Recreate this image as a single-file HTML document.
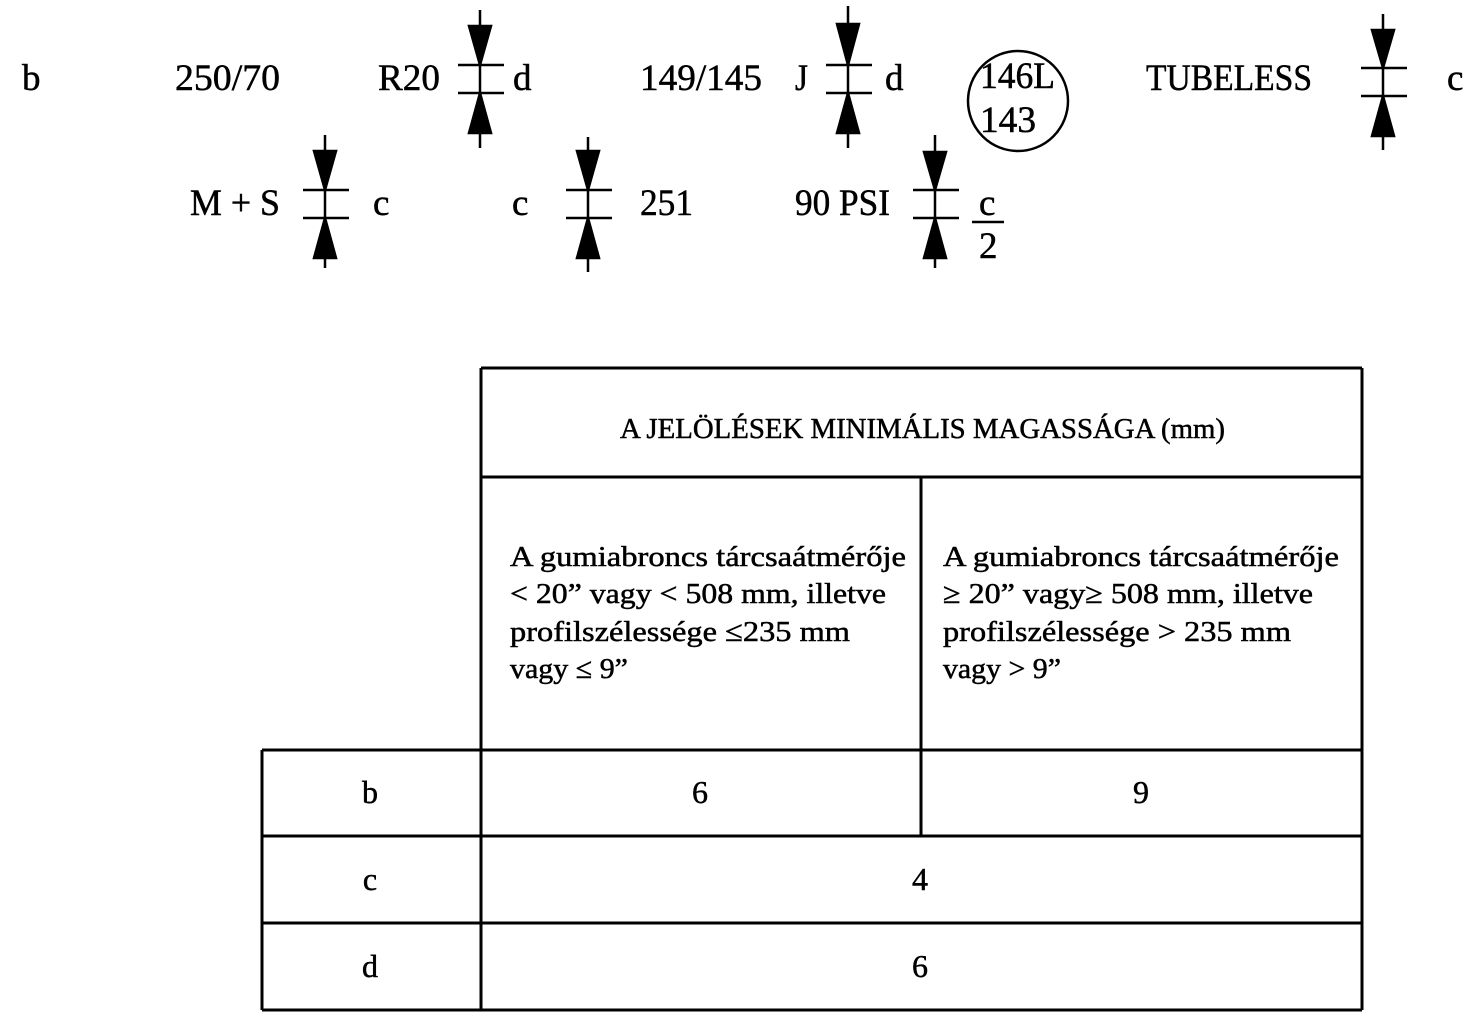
<!DOCTYPE html>
<html><head><meta charset="utf-8"><style>
html,body{margin:0;padding:0;background:#fff;}
svg{display:block;}
text{font-family:"Liberation Serif",serif;fill:#000;stroke:#000;stroke-width:0.5;}
</style></head><body>
<svg width="1481" height="1029" viewBox="0 0 1481 1029" xmlns="http://www.w3.org/2000/svg">
<g font-size="37">
<text x="22" y="90">b</text>
<text x="175" y="90" textLength="105" lengthAdjust="spacingAndGlyphs">250/70</text>
<text x="378" y="90" textLength="62" lengthAdjust="spacingAndGlyphs">R20</text>
<text x="513" y="90">d</text>
<text x="640" y="90" textLength="122" lengthAdjust="spacingAndGlyphs">149/145</text>
<text x="795" y="90" textLength="13" lengthAdjust="spacingAndGlyphs">J</text>
<text x="885" y="90">d</text>
<text x="980" y="88" textLength="75" lengthAdjust="spacingAndGlyphs" stroke-width="1">146L</text>
<text x="980" y="132" textLength="56" lengthAdjust="spacingAndGlyphs" stroke-width="1">143</text>
<text x="1146" y="90" textLength="166" lengthAdjust="spacingAndGlyphs">TUBELESS</text>
<text x="1447" y="90">c</text>
<text x="190" y="215" textLength="90" lengthAdjust="spacingAndGlyphs">M + S</text>
<text x="373" y="215">c</text>
<text x="512" y="215">c</text>
<text x="640" y="215" textLength="53" lengthAdjust="spacingAndGlyphs">251</text>
<text x="795" y="215" textLength="95" lengthAdjust="spacingAndGlyphs">90 PSI</text>
<text x="979" y="215">c</text>
<text x="979" y="258">2</text>
</g>
<line x1="972" y1="222" x2="1004" y2="222" stroke="#000" stroke-width="2.5"/>
<circle cx="1018" cy="101" r="50" fill="none" stroke="#000" stroke-width="2.5"/>
<g stroke="#000" stroke-width="2.5" fill="#000">
<g transform="translate(480,0)">
<line x1="0" y1="10" x2="0" y2="148"/><polygon points="-11,26 11,26 0,65"/><polygon points="-11,133 11,133 0,93"/>
<line x1="-22" y1="65" x2="24" y2="65"/><line x1="-22" y1="93" x2="24" y2="93"/></g>
<g transform="translate(848,-2)">
<line x1="0" y1="8" x2="0" y2="150"/><polygon points="-11,26 11,26 0,67"/><polygon points="-11,135 11,135 0,95"/>
<line x1="-22" y1="67" x2="24" y2="67"/><line x1="-22" y1="95" x2="24" y2="95"/></g>
<g transform="translate(1383,2)">
<line x1="0" y1="12" x2="0" y2="148"/><polygon points="-11,28 11,28 0,66"/><polygon points="-11,134 11,134 0,94"/>
<line x1="-22" y1="66" x2="24" y2="66"/><line x1="-22" y1="94" x2="24" y2="94"/></g>
<g transform="translate(325,125)">
<line x1="0" y1="10" x2="0" y2="143"/><polygon points="-11,26 11,26 0,65"/><polygon points="-11,133 11,133 0,93"/>
<line x1="-22" y1="65" x2="24" y2="65"/><line x1="-22" y1="93" x2="24" y2="93"/></g>
<g transform="translate(588,125)">
<line x1="0" y1="12" x2="0" y2="147"/><polygon points="-11,26 11,26 0,65"/><polygon points="-11,133 11,133 0,93"/>
<line x1="-22" y1="65" x2="24" y2="65"/><line x1="-22" y1="93" x2="24" y2="93"/></g>
<g transform="translate(935,125)">
<line x1="0" y1="10" x2="0" y2="143"/><polygon points="-11,27 11,27 0,65"/><polygon points="-11,133 11,133 0,93"/>
<line x1="-22" y1="65" x2="24" y2="65"/><line x1="-22" y1="93" x2="24" y2="93"/></g>
</g>
<g stroke="#000" stroke-width="3" fill="none">
<line x1="481" y1="368" x2="1362" y2="368"/>
<line x1="481" y1="368" x2="481" y2="1010"/>
<line x1="1362" y1="368" x2="1362" y2="1010"/>
<line x1="481" y1="477" x2="1362" y2="477"/>
<line x1="921" y1="477" x2="921" y2="836"/>
<line x1="262" y1="750" x2="1362" y2="750"/>
<line x1="262" y1="750" x2="262" y2="1010"/>
<line x1="262" y1="836" x2="1362" y2="836"/>
<line x1="262" y1="923" x2="1362" y2="923"/>
<line x1="262" y1="1010" x2="1362" y2="1010"/>
</g>
<g font-size="29">
<text x="620" y="438" textLength="605" lengthAdjust="spacingAndGlyphs">A JELÖLÉSEK MINIMÁLIS MAGASSÁGA (mm)</text>
<text x="510" y="566" textLength="396" lengthAdjust="spacingAndGlyphs">A gumiabroncs tárcsaátmérője</text>
<text x="510" y="603" textLength="376" lengthAdjust="spacingAndGlyphs">&lt; 20” vagy &lt; 508 mm, illetve</text>
<text x="510" y="641" textLength="340" lengthAdjust="spacingAndGlyphs">profilszélessége ≤235 mm</text>
<text x="510" y="678" textLength="118" lengthAdjust="spacingAndGlyphs">vagy ≤ 9”</text>
<text x="943" y="566" textLength="396" lengthAdjust="spacingAndGlyphs">A gumiabroncs tárcsaátmérője</text>
<text x="943" y="603" textLength="370" lengthAdjust="spacingAndGlyphs">≥ 20” vagy≥ 508 mm, illetve</text>
<text x="943" y="641" textLength="348" lengthAdjust="spacingAndGlyphs">profilszélessége &gt; 235 mm</text>
<text x="943" y="678" textLength="118" lengthAdjust="spacingAndGlyphs">vagy &gt; 9”</text>
<g font-size="32" text-anchor="middle">
<text x="370" y="803">b</text>
<text x="700" y="803">6</text>
<text x="1141" y="803">9</text>
<text x="370" y="890">c</text>
<text x="920" y="890">4</text>
<text x="370" y="977">d</text>
<text x="920" y="977">6</text>
</g>
</g>
</svg>
</body></html>
